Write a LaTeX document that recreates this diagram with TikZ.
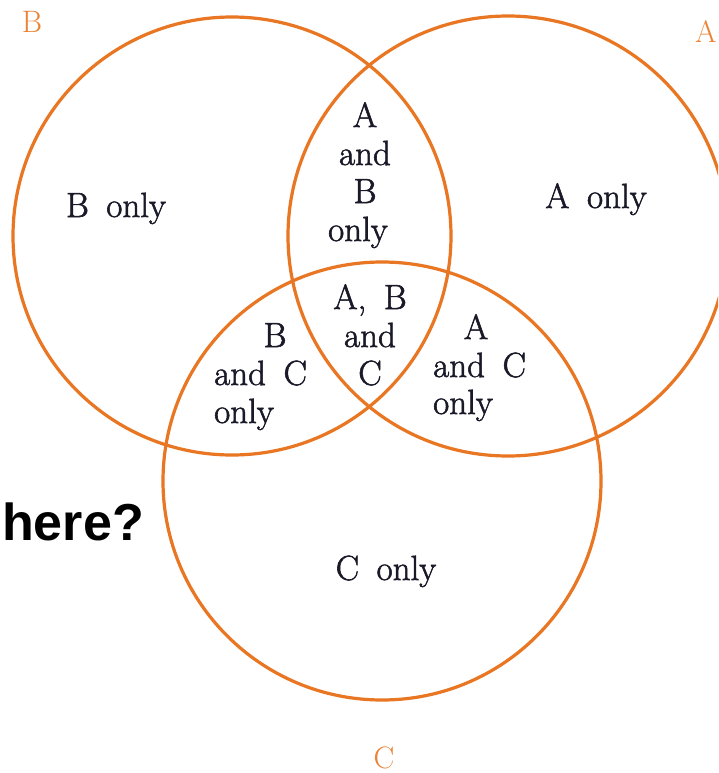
\documentclass[tikz,border=0pt]{standalone}
\usepackage{fontspec}
\newfontfamily\headsans{Liberation Sans}
\newfontfamily\bodyserif{Latin Modern Roman}[FakeBold=1.6]
\definecolor{vorange}{RGB}{232,118,34}
\definecolor{lorange}{RGB}{236,130,52}
\definecolor{inkdark}{RGB}{25,25,40}
\newcommand\wordgap{\hspace{0.5em}}
\begin{document}
\begin{tikzpicture}[x=1pt,y=-1pt,
  ring/.style={draw=vorange,line width=3.2pt},
  txt/.style={anchor=base,inner sep=0pt,font=\bodyserif\fontsize{35}{40}\selectfont,text=inkdark},
  txtw/.style={txt,anchor=base west},
  setlbl/.style={anchor=base,inner sep=0pt,font=\fontsize{31}{36}\selectfont,text=lorange}]
\useasboundingbox (0,0) rectangle (718,773);
\fill[white] (0,0) rectangle (718,773);
\coordinate (cB) at (232,236);
\coordinate (cA) at (508,236);
\coordinate (cC) at (382,481);
\begin{scope}
  \clip (0,0) rectangle (718,773);
  \draw[ring] (cB) circle[radius=219pt];
  \draw[ring] (cA) circle[radius=220pt];
  \draw[ring] (cC) circle[radius=219pt];
\end{scope}
\node[setlbl,anchor=base west] (labA) at (695,43) {A};
\node[setlbl] (labB) at (32,33) {B};
\node[setlbl] (labC) at (384,768) {C};
% single regions
\node[txt] (bonly) at (116,217) {B\wordgap only};
\node[txt] (aonly) at (596,208) {A\wordgap only};
\node[txt] (conly) at (386,580) {C\wordgap only};
% A and B only
\node[txt] (ab1) at (365,127) {A};
\node[txt] (ab2) at (365,165) {and};
\node[txt] (ab3) at (365,203) {B};
\node[txt] (ab4) at (358,241) {only};
% A, B and C
\node[txt] (abc1) at (370,309) {A,\wordgap B};
\node[txt] (abc2) at (370,347) {and};
\node[txt] (abc3) at (370,385) {C};
% B and C only
\node[txt] (bc1) at (275,347) {B};
\node[txtw] (bc2) at (214,385) {and\wordgap C};
\node[txtw] (bc3) at (214,423) {only};
% A and C only
\node[txt] (ac1) at (476,339) {A};
\node[txtw] (ac2) at (433,377) {and\wordgap C};
\node[txtw] (ac3) at (433,414) {only};
% question
\node[anchor=base west,inner sep=0pt,font=\headsans\bfseries\fontsize{52}{58}\selectfont,text=black] (q) at (2,540) {here?};
\end{tikzpicture}
\end{document}
